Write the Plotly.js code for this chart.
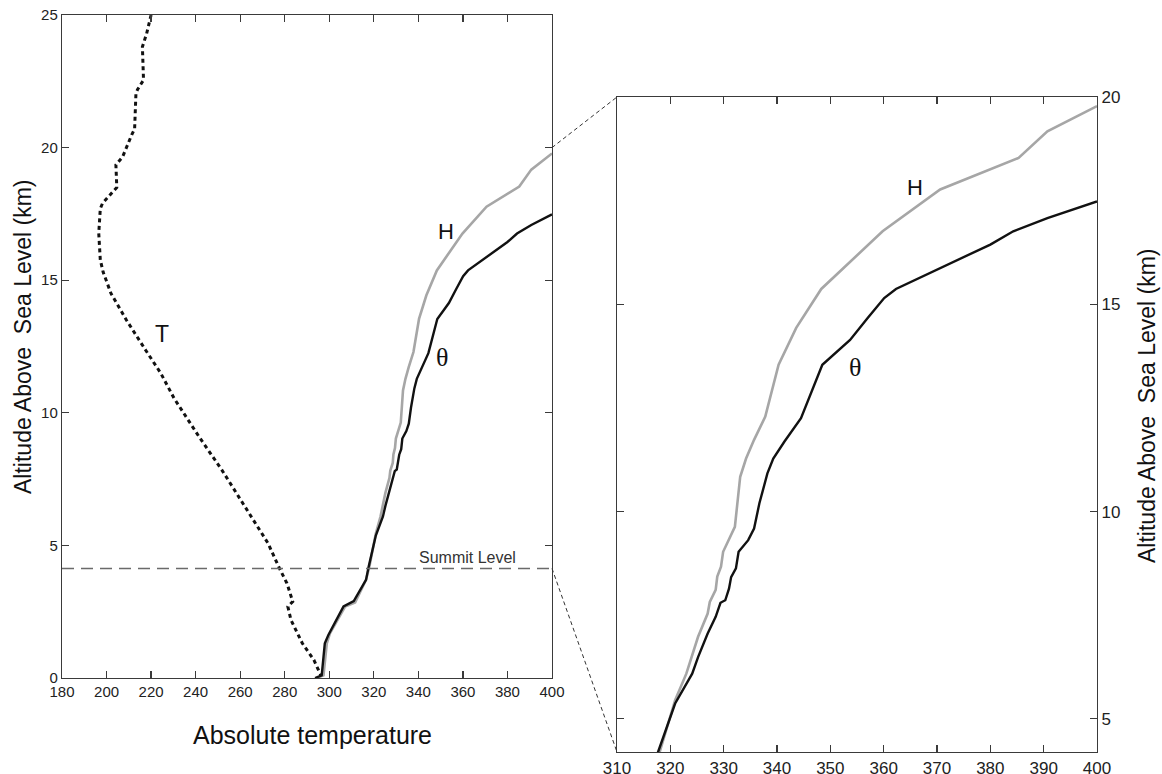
<!DOCTYPE html>
<html>
<head>
<meta charset="utf-8">
<script src="https://cdn.plot.ly/plotly-3.0.1.min.js"></script>
<style>html,body{margin:0;padding:0;background:#fff;}#chart{width:1162px;height:774px;}</style>
</head>
<body>
<div id="chart"></div>
<script>
// ---- data ----
// Air temperature T (K) vs altitude (km)
const tempT = [220, 218, 216.1, 216.6, 214, 213.2, 212.6, 211.4, 207.2, 204.2, 204.6, 202, 198.2, 197.2, 196.5, 197.2, 198.5, 202, 208.9, 217.5, 224.3, 230.3, 241.5, 251.8, 262.2, 272.5, 277.6, 281, 283.6, 281.4, 282.8, 287.9, 293.1, 296.5];
const altT  = [25, 24.3, 23.8, 22.55, 22.2, 22.05, 20.7, 20.5, 19.65, 19.35, 18.5, 18.27, 17.9, 17.7, 16.77, 15.76, 15.3, 14.5, 13.5, 12.37, 11.5, 10.55, 9.1, 7.84, 6.46, 5.08, 4.14, 3.57, 2.88, 2.69, 2.19, 1.31, 0.68, 0.05];
// Potential temperature theta (K)
const thetaT = [293.6, 296.6, 298, 299.6, 306.4, 311, 316.5, 317.7, 320.9, 324.1, 325.2, 327.0, 328.5, 329.4, 330.3, 331.0, 331.4, 332.3, 332.8, 334.6, 335.7, 336.7, 338.2, 339.3, 341.4, 344.5, 348.5, 353.7, 357.0, 360.1, 362.3, 371.3, 380.0, 384.3, 390.7, 400];
const thetaZ = [0, 0.1, 1.31, 1.62, 2.7, 2.9, 3.7, 4.2, 5.37, 6.09, 6.49, 7.06, 7.46, 7.80, 7.86, 8.14, 8.42, 8.63, 9.03, 9.31, 9.59, 10.2, 10.92, 11.28, 11.69, 12.25, 13.54, 14.14, 14.67, 15.15, 15.37, 15.91, 16.44, 16.76, 17.08, 17.48];
// H curve (K)
const hT = [294.4, 297.4, 298.9, 300.3, 307.1, 311.6, 316.5, 318.0, 320.9, 323.0, 325.2, 327.0, 327.4, 328.5, 328.8, 329.5, 329.9, 331.0, 332.1, 333.1, 334.2, 335.7, 337.8, 340.3, 343.6, 348.3, 357.6, 359.8, 370.6, 385.3, 390.7, 400];
const hZ = [0, 0.1, 1.31, 1.68, 2.69, 2.85, 3.7, 4.2, 5.45, 6.09, 6.98, 7.54, 7.82, 8.11, 8.43, 8.67, 9.03, 9.31, 9.63, 10.84, 11.28, 11.73, 12.29, 13.54, 14.43, 15.37, 16.48, 16.76, 17.77, 18.53, 19.17, 19.78];
const summitAlt = 4.13;
const summitLabel = "Summit Level";
const leftXTicks = [180, 200, 220, 240, 260, 280, 300, 320, 340, 360, 380, 400];
const leftYTicks = [0, 5, 10, 15, 20, 25];
const rightXTicks = [310, 320, 330, 340, 350, 360, 370, 380, 390, 400];
const rightYTicks = [5, 10, 15, 20];
const xTitle = "Absolute temperature";
const yTitle = "Altitude Above\u00A0 Sea Level (km)";

// ---- layout geometry ----
const W = 1162, H = 774;
const lxDom = [62 / W, 552 / W], lyDom = [1 - 678 / H, 1 - 15 / H];
const rxDom = [617 / W, 1097 / W], ryDom = [1 - 752 / H, 1 - 97 / H];
const lxRange = [180, 400], lyRange = [0, 25];
const rxRange = [310, 400], ryRange = [4.2, 20];

const sans = "'Liberation Sans', Arial, Helvetica, sans-serif";
const serif = "'Liberation Serif', 'Times New Roman', serif";
const axColor = '#3a3a3a';

function axisBase(extra) {
  return Object.assign({
    showline: true, linecolor: axColor, linewidth: 1.2,
    mirror: 'ticks', ticks: 'inside', ticklen: 7, tickwidth: 1.2, tickcolor: axColor,
    showgrid: false, zeroline: false, fixedrange: true
  }, extra);
}

const traces = [
  {x: tempT, y: altT, xaxis: 'x', yaxis: 'y', mode: 'lines', name: 'T',
   line: {color: '#111', width: 3, dash: '4px,3.5px'}, hoverinfo: 'skip'},
  {x: hT, y: hZ, xaxis: 'x', yaxis: 'y', mode: 'lines', name: 'H',
   line: {color: '#a6a6a6', width: 2.6}, hoverinfo: 'skip'},
  {x: thetaT, y: thetaZ, xaxis: 'x', yaxis: 'y', mode: 'lines', name: 'θ',
   line: {color: '#111', width: 2.4}, hoverinfo: 'skip'},
  {x: [lxRange[0], lxRange[1]], y: [summitAlt, summitAlt], xaxis: 'x', yaxis: 'y', mode: 'lines', name: 'Summit',
   line: {color: '#6a6a6a', width: 1.6, dash: '12px,7px'}, hoverinfo: 'skip'},
  {x: hT, y: hZ, xaxis: 'x2', yaxis: 'y2', mode: 'lines', name: 'H zoom',
   line: {color: '#a6a6a6', width: 2.6}, hoverinfo: 'skip'},
  {x: thetaT, y: thetaZ, xaxis: 'x2', yaxis: 'y2', mode: 'lines', name: 'θ zoom',
   line: {color: '#111', width: 2.4}, hoverinfo: 'skip'}
];

// paper coordinates of connector end points, derived from domains/ranges
function px(dom, rng, v) { return dom[0] + (v - rng[0]) / (rng[1] - rng[0]) * (dom[1] - dom[0]); }
const conn = {type: 'line', xref: 'paper', yref: 'paper', line: {color: '#333', width: 1, dash: '4px,3px'}};
const shapes = [
  Object.assign({}, conn, {x0: lxDom[1], y0: px(lyDom, lyRange, ryRange[1]), x1: rxDom[0], y1: ryDom[1]}),
  Object.assign({}, conn, {x0: lxDom[1], y0: px(lyDom, lyRange, summitAlt), x1: rxDom[0], y1: ryDom[0]})
];

function ann(o) { return Object.assign({showarrow: false, xanchor: 'center', yanchor: 'middle'}, o); }
const annotations = [
  ann({xref: 'x', yref: 'y', x: 224.7, y: 12.96, text: 'T', font: {family: sans, size: 23, color: '#111'}}),
  ann({xref: 'x', yref: 'y', x: 352.4, y: 16.84, text: 'H', font: {family: sans, size: 22, color: '#111'}}),
  ann({xref: 'x', yref: 'y', x: 350.6, y: 12.07, text: 'θ', font: {family: serif, size: 26, color: '#111'}}),
  ann({xref: 'x', yref: 'y', x: 362, y: 4.56, text: summitLabel, font: {family: sans, size: 16, color: '#333'}}),
  ann({xref: 'x2', yref: 'y2', x: 365.9, y: 17.81, text: 'H', font: {family: sans, size: 22, color: '#111'}}),
  ann({xref: 'x2', yref: 'y2', x: 354.55, y: 13.48, text: 'θ', font: {family: serif, size: 26, color: '#111'}}),
  ann({xref: 'paper', yref: 'paper', x: 312 / W, y: 1 - 735 / H, text: xTitle, font: {family: sans, size: 25, color: '#111'}}),
  ann({xref: 'paper', yref: 'paper', x: 23 / W, y: 1 - 337 / H, text: yTitle, textangle: -90, font: {family: sans, size: 23, color: '#111'}}),
  ann({xref: 'paper', yref: 'paper', x: 1147 / W, y: 1 - 406 / H, text: yTitle, textangle: -90, font: {family: sans, size: 23, color: '#111'}})
];

const layout = {
  width: W, height: H,
  margin: {l: 0, r: 0, t: 0, b: 0},
  paper_bgcolor: '#fff', plot_bgcolor: '#fff',
  showlegend: false,
  font: {family: sans, color: '#222'},
  xaxis: axisBase({domain: lxDom, anchor: 'y', range: lxRange, tickmode: 'array', tickvals: leftXTicks,
                   ticktext: leftXTicks.map(String), tickfont: {size: 15, color: '#222'}}),
  yaxis: axisBase({domain: lyDom, anchor: 'x', range: lyRange, tickmode: 'array', tickvals: leftYTicks,
                   ticktext: leftYTicks.map(String), tickfont: {size: 15, color: '#222'}}),
  xaxis2: axisBase({domain: rxDom, anchor: 'y2', range: rxRange, tickmode: 'array', tickvals: rightXTicks,
                    ticktext: rightXTicks.map(String), tickfont: {size: 17, color: '#222'}, ticklabelstandoff: 0}),
  yaxis2: axisBase({domain: ryDom, anchor: 'x2', side: 'right', range: ryRange, tickmode: 'array', tickvals: rightYTicks,
                    ticktext: rightYTicks.map(String), tickfont: {size: 17, color: '#222'}}),
  shapes: shapes,
  annotations: annotations
};

Plotly.newPlot('chart', traces, layout, {displayModeBar: false, staticPlot: true});
</script>
</body>
</html>
